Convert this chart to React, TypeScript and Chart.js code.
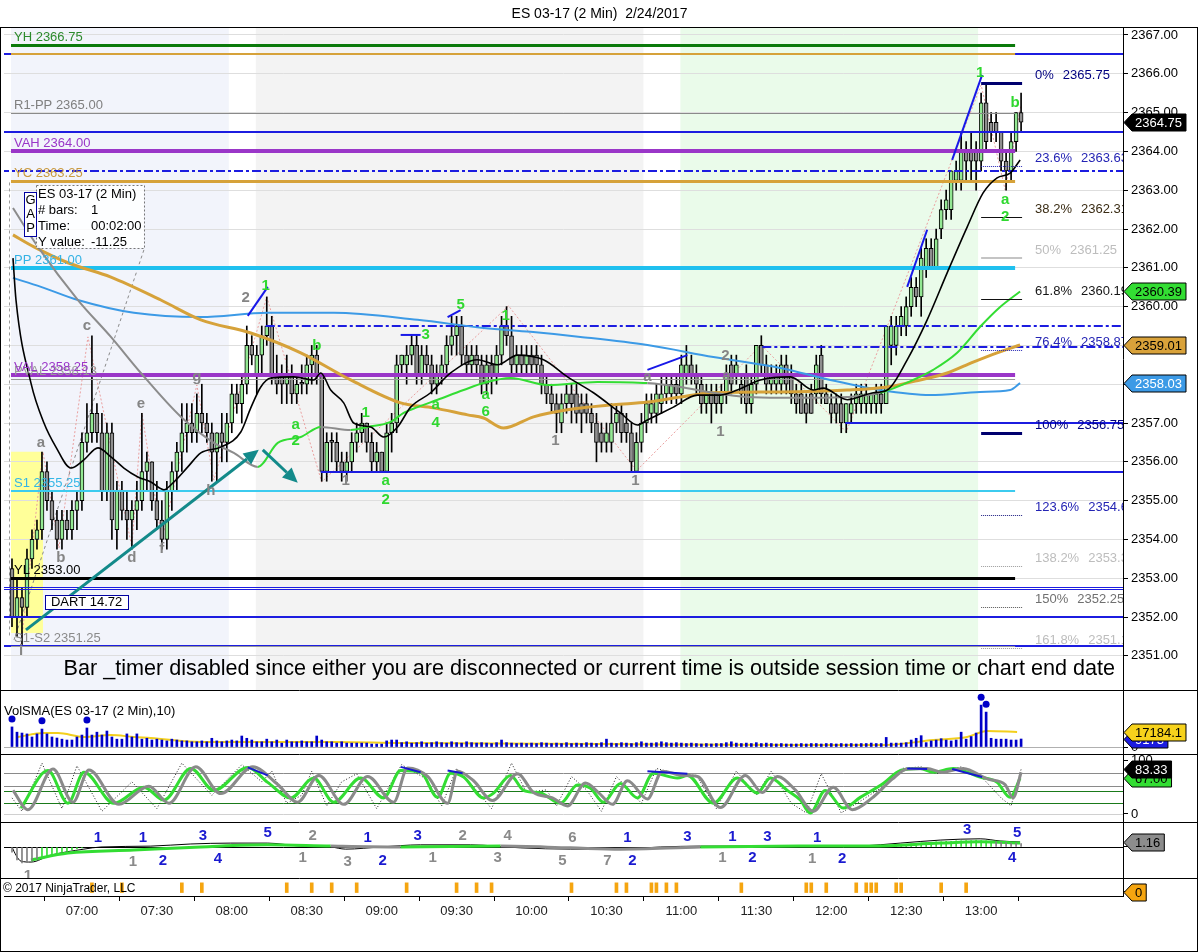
import { useEffect, useRef } from 'react';
import { Chart, registerables } from 'chart.js';

Chart.register(...registerables);

const FONT = '"Liberation Sans", Arial, Helvetica, sans-serif';

/* ---------------- categories / ticks ---------------- */
const TITLE = 'ES 03-17 (2 Min)  2/24/2017';
const FIRST_BAR = '06:32';
const BAR_MINUTES = 2;
const TIME_TICKS = ['07:00', '07:30', '08:00', '08:30', '09:00', '09:30', '10:00', '10:30', '11:00', '11:30', '12:00', '12:30', '13:00'];
const PRICE_TICKS = [2351, 2352, 2353, 2354, 2355, 2356, 2357, 2358, 2359, 2360, 2361, 2362, 2363, 2364, 2365, 2366, 2367];
const X_RANGE = [-1.6, 222.4];
const PRICE_RANGE = [2350.12, 2367.18];
const VOL_RANGE = [-8, 65.3];
const STOCH_RANGE = [-15, 112];
const MACD_RANGE = [-7.2, 5.8];
const STRIP_RANGE = [-0.3, 1];

/* ---------------- price bars [open, high, low, close] ---------------- */
const CANDLES = [
  [2353.25, 2353.5, 2351.75, 2352.0], [2352.0, 2353.0, 2351.5, 2352.5], [2352.5, 2352.75, 2351.25, 2352.25], [2352.25, 2353.75, 2352.0, 2353.5],
  [2353.5, 2354.25, 2353.25, 2354.0], [2354.0, 2354.5, 2353.75, 2354.25], [2354.25, 2356.25, 2354.0, 2355.75], [2355.75, 2356.0, 2354.75, 2355.0],
  [2355.0, 2355.25, 2354.25, 2354.5], [2354.5, 2354.75, 2353.75, 2354.0], [2354.0, 2354.75, 2353.75, 2354.5], [2354.5, 2354.75, 2354.0, 2354.25],
  [2354.25, 2355.0, 2354.0, 2354.75], [2354.75, 2355.25, 2354.25, 2355.0], [2355.0, 2356.75, 2354.75, 2356.5], [2356.5, 2357.5, 2356.25, 2356.75],
  [2356.75, 2359.25, 2356.5, 2357.25], [2357.25, 2357.5, 2356.5, 2356.75], [2356.75, 2357.25, 2355.0, 2355.25], [2355.25, 2357.0, 2355.0, 2356.75],
  [2356.75, 2357.0, 2354.0, 2354.5], [2354.25, 2355.5, 2353.75, 2355.25], [2355.25, 2355.5, 2354.5, 2354.75], [2354.75, 2355.25, 2354.0, 2354.5],
  [2354.5, 2355.0, 2353.75, 2354.75], [2354.75, 2355.5, 2354.25, 2355.0], [2355.0, 2357.25, 2354.75, 2355.75], [2355.75, 2356.25, 2355.25, 2356.0],
  [2356.0, 2356.0, 2354.75, 2355.0], [2355.0, 2355.5, 2354.25, 2354.5], [2354.5, 2355.0, 2353.75, 2354.0], [2354.0, 2355.5, 2353.75, 2355.25],
  [2355.25, 2356.0, 2354.75, 2355.75], [2355.75, 2356.5, 2355.25, 2356.25], [2356.25, 2357.5, 2355.75, 2356.75], [2356.75, 2357.5, 2356.25, 2357.0],
  [2357.0, 2357.5, 2356.5, 2356.75], [2356.75, 2357.75, 2356.5, 2357.25], [2357.25, 2358.0, 2356.75, 2357.0], [2357.0, 2357.25, 2356.5, 2356.75],
  [2356.75, 2357.0, 2355.5, 2356.25], [2356.25, 2356.75, 2355.5, 2356.75], [2356.75, 2357.25, 2356.0, 2356.5], [2356.5, 2357.25, 2356.0, 2357.0],
  [2357.0, 2358.0, 2356.75, 2357.75], [2357.75, 2358.0, 2357.25, 2357.5], [2357.5, 2358.25, 2357.0, 2358.0], [2358.0, 2359.5, 2357.75, 2359.0],
  [2359.0, 2359.25, 2358.5, 2358.75], [2358.25, 2359.0, 2357.75, 2358.75], [2358.75, 2359.5, 2358.25, 2359.25], [2359.25, 2360.25, 2359.0, 2359.5],
  [2359.5, 2359.75, 2358.0, 2358.25], [2358.25, 2358.75, 2357.75, 2358.0], [2358.25, 2358.5, 2357.5, 2358.0], [2358.0, 2358.75, 2357.5, 2358.25],
  [2358.25, 2358.5, 2357.5, 2357.75], [2357.75, 2358.25, 2357.5, 2358.0], [2358.0, 2358.5, 2357.75, 2358.0], [2358.0, 2358.75, 2357.75, 2358.5],
  [2358.5, 2359.0, 2358.0, 2358.75], [2358.75, 2359.0, 2358.0, 2358.25], [2358.25, 2358.25, 2355.5, 2355.75], [2355.75, 2356.75, 2355.5, 2356.5],
  [2356.5, 2356.75, 2356.0, 2356.5], [2356.5, 2356.75, 2355.75, 2356.0], [2356.0, 2356.25, 2355.5, 2355.75], [2355.75, 2356.25, 2355.5, 2356.0],
  [2356.0, 2356.75, 2355.75, 2356.5], [2356.5, 2357.0, 2356.25, 2356.75], [2356.75, 2357.25, 2356.5, 2357.0], [2357.0, 2357.0, 2356.25, 2356.5],
  [2356.5, 2356.75, 2355.75, 2356.0], [2356.0, 2356.5, 2355.75, 2356.25], [2356.25, 2356.25, 2355.75, 2355.75], [2355.75, 2357.0, 2355.75, 2356.75],
  [2356.75, 2357.25, 2356.25, 2357.0], [2357.0, 2358.75, 2356.75, 2358.5], [2358.5, 2358.75, 2358.25, 2358.75], [2358.5, 2359.0, 2358.0, 2358.75],
  [2358.75, 2359.25, 2358.5, 2359.0], [2359.0, 2359.25, 2358.0, 2358.25], [2358.25, 2359.0, 2358.0, 2358.75], [2358.75, 2359.0, 2358.25, 2358.5],
  [2358.5, 2358.75, 2357.75, 2358.0], [2358.0, 2358.5, 2357.75, 2358.25], [2358.25, 2358.75, 2358.0, 2358.5], [2358.5, 2359.25, 2358.25, 2359.0],
  [2359.0, 2359.75, 2358.75, 2359.25], [2359.25, 2359.75, 2358.75, 2359.5], [2359.5, 2359.75, 2358.5, 2358.75], [2358.75, 2359.0, 2358.25, 2358.5],
  [2358.5, 2359.0, 2358.25, 2358.75], [2358.75, 2359.0, 2358.25, 2358.5], [2358.5, 2358.75, 2357.75, 2358.0], [2358.0, 2358.75, 2357.75, 2358.5],
  [2358.5, 2358.75, 2357.75, 2358.25], [2358.25, 2359.0, 2358.0, 2358.75], [2358.75, 2359.75, 2358.5, 2359.5], [2359.5, 2360.0, 2359.0, 2359.25],
  [2359.25, 2359.75, 2358.25, 2358.5], [2358.5, 2359.0, 2358.25, 2358.75], [2358.75, 2359.0, 2358.25, 2358.5], [2358.5, 2359.0, 2358.25, 2358.75],
  [2358.75, 2359.0, 2358.25, 2358.5], [2358.75, 2359.0, 2358.25, 2358.5], [2358.5, 2358.75, 2357.75, 2358.0], [2358.0, 2358.25, 2357.5, 2357.75],
  [2357.75, 2358.0, 2357.25, 2357.5], [2357.5, 2357.75, 2356.75, 2357.25], [2357.0, 2357.75, 2356.75, 2357.5], [2357.5, 2358.0, 2357.25, 2357.75],
  [2357.75, 2358.0, 2357.0, 2357.5], [2357.75, 2358.0, 2357.0, 2357.25], [2357.5, 2357.75, 2356.75, 2357.25], [2357.5, 2357.75, 2357.0, 2357.25],
  [2357.25, 2357.5, 2356.75, 2357.0], [2357.0, 2357.25, 2356.0, 2356.5], [2356.75, 2357.0, 2356.25, 2356.5], [2356.5, 2357.0, 2356.25, 2356.75],
  [2356.5, 2357.5, 2356.25, 2357.0], [2357.0, 2357.5, 2356.75, 2357.25], [2357.25, 2357.5, 2356.5, 2356.75], [2357.0, 2357.25, 2356.5, 2356.75],
  [2356.75, 2357.0, 2355.75, 2356.0], [2355.75, 2356.75, 2355.75, 2356.5], [2356.5, 2357.25, 2356.25, 2357.0], [2357.0, 2357.75, 2356.75, 2357.5],
  [2357.25, 2357.75, 2357.0, 2357.5], [2357.25, 2358.0, 2357.0, 2357.75], [2357.5, 2358.25, 2357.25, 2357.75], [2357.75, 2358.25, 2357.5, 2358.0],
  [2357.75, 2358.25, 2357.5, 2358.0], [2358.0, 2358.25, 2357.5, 2357.75], [2357.75, 2358.75, 2357.5, 2358.5], [2358.25, 2359.0, 2358.0, 2358.5],
  [2358.5, 2358.75, 2358.0, 2358.25], [2358.25, 2358.5, 2357.75, 2358.0], [2358.0, 2358.25, 2357.25, 2357.5], [2357.5, 2358.0, 2357.25, 2357.75],
  [2357.75, 2358.0, 2357.0, 2357.5], [2357.75, 2358.0, 2357.25, 2357.5], [2357.5, 2358.0, 2357.25, 2357.75], [2357.75, 2358.5, 2357.5, 2358.25],
  [2358.5, 2358.75, 2357.75, 2358.0], [2358.25, 2358.75, 2358.0, 2358.5], [2358.0, 2358.25, 2357.5, 2357.75], [2358.25, 2358.5, 2357.25, 2357.5],
  [2357.5, 2358.25, 2357.25, 2358.0], [2358.0, 2359.0, 2357.75, 2359.0], [2359.0, 2359.25, 2358.25, 2358.5], [2358.5, 2358.75, 2357.75, 2358.0],
  [2358.0, 2358.5, 2357.75, 2358.25], [2358.0, 2358.5, 2357.75, 2358.25], [2358.0, 2358.75, 2357.75, 2358.5], [2358.5, 2358.75, 2357.75, 2358.0],
  [2358.25, 2358.5, 2357.5, 2357.75], [2357.75, 2358.0, 2357.25, 2357.5], [2357.75, 2358.0, 2357.25, 2357.25], [2357.5, 2357.75, 2357.0, 2357.25],
  [2357.75, 2358.0, 2357.25, 2357.25], [2357.75, 2358.75, 2357.5, 2358.5], [2358.75, 2359.0, 2357.5, 2357.75], [2357.75, 2358.0, 2357.5, 2357.5],
  [2357.5, 2357.75, 2357.0, 2357.25], [2357.5, 2357.75, 2357.0, 2357.25], [2357.5, 2357.75, 2356.75, 2357.0], [2357.0, 2357.5, 2356.75, 2357.5],
  [2357.25, 2357.75, 2357.0, 2357.5], [2357.5, 2358.0, 2357.25, 2357.75], [2357.5, 2358.0, 2357.25, 2357.75], [2357.5, 2358.0, 2357.25, 2357.75],
  [2357.5, 2357.75, 2357.25, 2357.75], [2357.5, 2358.0, 2357.25, 2357.75], [2357.75, 2358.0, 2357.25, 2357.5], [2357.5, 2359.5, 2357.5, 2359.5],
  [2359.0, 2359.75, 2358.5, 2359.5], [2359.0, 2359.75, 2358.75, 2359.5], [2359.5, 2360.0, 2359.25, 2359.75], [2359.5, 2360.25, 2359.25, 2360.0],
  [2360.0, 2360.75, 2359.75, 2360.5], [2360.5, 2360.75, 2360.0, 2360.25], [2360.25, 2361.5, 2359.75, 2361.25], [2361.0, 2361.75, 2360.75, 2361.5],
  [2361.5, 2361.75, 2361.0, 2361.0], [2361.0, 2362.0, 2361.0, 2361.75], [2362.0, 2362.75, 2361.75, 2362.5], [2362.5, 2363.0, 2362.25, 2362.75],
  [2362.5, 2363.5, 2362.25, 2363.5], [2363.25, 2363.75, 2363.0, 2363.5], [2363.25, 2364.5, 2363.0, 2364.0], [2364.0, 2364.25, 2363.25, 2363.75],
  [2364.0, 2364.5, 2363.25, 2363.75], [2364.0, 2364.25, 2363.0, 2363.75], [2363.75, 2365.5, 2363.5, 2365.25], [2365.25, 2365.75, 2364.0, 2364.25],
  [2364.75, 2365.0, 2364.25, 2364.5], [2364.75, 2365.0, 2364.25, 2364.5], [2364.5, 2364.5, 2363.5, 2363.75], [2363.75, 2364.0, 2363.0, 2363.5],
  [2363.5, 2364.5, 2363.25, 2364.25], [2364.25, 2365.0, 2364.0, 2365.0], [2365.0, 2365.5, 2364.5, 2364.75],
];

/* ---------------- moving averages [barIndex, price] ---------------- */
const BLACK_MA = [[0.2, 2361.25], [0.8, 2360.17], [3.8, 2358.03], [6.4, 2357.0], [8.8, 2356.38], [11.8, 2355.84], [14.4, 2356.05], [17.2, 2356.36], [19.8, 2356.13], [22.4, 2355.84], [25.2, 2355.61], [27.8, 2355.48], [30.4, 2355.28], [32.4, 2355.48], [35.2, 2355.87], [37.8, 2356.23], [41.8, 2356.38], [45.8, 2356.77], [47.8, 2357.39], [49.8, 2357.93], [51.8, 2358.16], [56.4, 2358.19], [60.4, 2358.11], [61.8, 2358.29], [63.8, 2357.85], [66.4, 2357.52], [68.4, 2357.0], [71.8, 2356.9], [74.4, 2356.64], [77.2, 2356.9], [79.8, 2357.41], [83.8, 2357.78], [87.8, 2358.29], [93.2, 2358.63], [97.2, 2358.5], [101.2, 2358.75], [106.4, 2358.63], [111.2, 2358.19], [116.4, 2357.78], [121.8, 2357.26], [125.2, 2356.95], [127.2, 2357.08], [132.4, 2357.41], [137.2, 2357.72], [141.8, 2357.72], [145.2, 2357.85], [149.8, 2358.11], [155.8, 2358.19], [160.4, 2357.85], [162.4, 2357.9], [167.2, 2357.6], [172.4, 2357.78], [175.2, 2357.85], [179.2, 2358.63], [183.2, 2359.66], [187.2, 2360.87], [191.2, 2362.05], [194.4, 2362.93], [197.2, 2363.32], [199.8, 2363.44], [201.8, 2363.78]];
const SLOW_MA = [[0.2, 2362.54], [5.2, 2361.54], [13.2, 2360.17], [19.8, 2359.22], [25.8, 2358.29], [33.8, 2357.16], [40.4, 2356.49], [44.4, 2356.23], [49.2, 2355.87], [53.2, 2356.49], [57.8, 2356.64], [61.8, 2356.9], [67.8, 2356.82], [71.2, 2356.9], [75.8, 2357.03], [78.4, 2357.26], [81.2, 2357.41], [85.2, 2357.6], [90.4, 2357.85], [94.4, 2358.03], [99.8, 2358.16], [107.2, 2357.98], [117.2, 2358.06], [127.2, 2358.03], [133.8, 2357.93], [140.4, 2357.78], [147.2, 2357.67], [153.8, 2357.65], [160.4, 2357.65], [167.2, 2357.67], [173.8, 2357.78], [180.4, 2358.11], [184.4, 2358.37], [189.2, 2358.81], [193.8, 2359.48], [197.8, 2359.99], [201.8, 2360.39]];
const ORANGE_MA = [[0.2, 2361.85], [4.4, 2361.54], [11.2, 2361.13], [19.8, 2360.76], [29.8, 2360.17], [37.8, 2359.66], [47.8, 2359.32], [57.8, 2358.81], [67.8, 2358.11], [77.8, 2357.52], [84.4, 2357.39], [91.2, 2357.21], [94.4, 2357.13], [98.4, 2356.87], [104.4, 2357.16], [111.2, 2357.34], [120.4, 2357.47], [127.2, 2357.54], [133.8, 2357.67], [140.4, 2357.78], [153.8, 2357.8], [167.2, 2357.85], [175.2, 2357.93], [181.8, 2358.11], [187.2, 2358.29], [192.4, 2358.57], [197.2, 2358.81], [201.8, 2359.01]];
const BLUE_MA = [[0.2, 2360.74], [5.8, 2360.51], [13.2, 2360.17], [24.4, 2359.84], [37.8, 2359.73], [51.2, 2359.84], [64.4, 2359.84], [81.2, 2359.66], [94.4, 2359.45], [103.8, 2359.35], [113.8, 2359.22], [127.2, 2359.01], [140.4, 2358.7], [153.8, 2358.42], [163.8, 2358.11], [173.8, 2357.85], [183.8, 2357.72], [193.8, 2357.8], [199.8, 2357.85], [201.8, 2358.03]];
const SLOW_MA_GRAY_SPANS = [[0, 49], [61.8, 67.8], [127.2, 172.4]];

/* ---------------- volume (thousands) ---------------- */
const VOLUME_K = [
  23, 17, 16, 15, 11.5, 15, 20.6, 15, 11.5, 10.3,
  9, 8, 8, 11.5, 13.7, 21.8, 13.7, 17, 13.7, 18.3,
  11.5, 9, 9, 15, 11.5, 15, 9, 10, 8, 9,
  8, 7, 9, 8, 7, 7, 6, 6, 7, 6,
  10, 7, 6, 7, 8, 7, 12.6, 10, 8, 6,
  6, 9, 6, 8, 4.5, 8, 6, 6, 7, 6,
  6, 12.6, 8, 6, 6, 4.5, 6, 4.5, 4.5, 4.5,
  4.5, 4.5, 3.4, 3.4, 3.4, 7, 8, 8,
  5, 6, 4.5, 5, 6, 4.5, 5, 6, 5, 4.5,
  6, 5, 4.5, 6, 5, 4.5, 5, 4.5, 4, 5,
  8, 5, 4.5, 4, 4.5, 4, 4.5, 4, 5, 4.5,
  4, 4.5, 4, 5, 4, 4.5, 4, 5, 4.5, 4,
  5, 9, 4.5, 4, 5, 4.5, 4, 5, 6, 4.5,
  4.5, 5, 6, 5, 4.5, 5, 4.5, 4, 4.5, 4,
  3.5, 4, 3.5, 4, 4, 5, 6, 4.5, 4, 4.5,
  4, 5, 4, 4.5, 4, 3.5, 4, 3.5,
  3.5, 3.5, 4, 3.5, 4, 4, 3.5, 4, 4, 3.5,
  4, 3.5, 4, 3.5, 4, 4, 4.5, 4, 4, 11,
  4.5, 4.5, 4.5, 5, 8, 10, 13, 5, 7, 8,
  9.5, 8, 7, 8, 17, 9, 12, 16, 48, 40, 10, 9, 9, 9, 8, 8, 9.173,
];
const VOL_SMA_K = [[1.2, 11.5], [6.4, 16], [9.2, 16], [14.4, 11.5], [19.8, 13.7], [24.4, 11.5], [27.8, 10.3], [37.8, 5.7], [51.2, 5.7], [64.4, 5.7], [77.8, 4.6], [117.8, 3.4], [157.8, 2.3], [174.4, 2.3], [184.4, 8], [191.2, 11.5], [195.2, 18.3], [201.2, 17.1841]];
const VOL_DOTS_K = [[0, 32], [6, 30], [15, 31], [194, 57], [195, 49]];

/* ---------------- stochastics ---------------- */
const STOCH_D = [[1.8, 11], [7.2, 81], [11.2, 20], [14.4, 78], [20.4, 20], [26.4, 50], [30.4, 26], [35.8, 85], [40.4, 44], [47.2, 87], [51.2, 59], [55.8, 30], [60.4, 67], [64.4, 22], [69.8, 67], [74.4, 30], [77.8, 81], [81.8, 78], [85.2, 31], [87.8, 76], [90.4, 69], [94.4, 30], [96.4, 39], [99.8, 72], [102.4, 44], [105.8, 39], [109.8, 20], [113.2, 54], [115.8, 48], [118.4, 22], [121.8, 57], [125.2, 30], [128.4, 76], [133.2, 67], [135.2, 72], [140.4, 20], [145.2, 67], [149.2, 39], [151.8, 67], [155.2, 44], [157.8, 26], [159.8, 2], [162.8, 44], [166.4, 11], [169.8, 31], [174.4, 57], [177.8, 81], [181.8, 85], [184.4, 78], [188.4, 85], [193.8, 69], [197.2, 59], [199.8, 31], [201.8, 67]];
const STOCH_SLOW = [[0.2, 44], [3.2, 8], [8.2, 84], [12.2, 22], [15.4, 82], [21.4, 18], [27.4, 52], [31.4, 20], [36.8, 88], [41.8, 38], [48.2, 88], [53.2, 55], [57.2, 22], [61.4, 72], [66.4, 18], [71.2, 70], [76.4, 22], [79.2, 86], [83.2, 70], [87.2, 20], [89.2, 80], [92.4, 62], [96.2, 25], [101.2, 75], [104.4, 40], [108.2, 30], [111.2, 15], [114.8, 58], [117.4, 40], [120.2, 18], [123.2, 62], [127.2, 28], [130.2, 80], [134.2, 72], [137.2, 70], [141.8, 12], [146.8, 72], [150.2, 40], [153.2, 70], [156.8, 45], [160.4, 5], [164.4, 50], [168.2, 8], [172.2, 30], [176.2, 65], [179.2, 84], [183.2, 85], [186.2, 78], [190.4, 85], [195.4, 65], [198.8, 55], [200.4, 30], [202, 78]];
const STOCH_K = [[0, 30], [2, 5], [6, 95], [10, 10], [13, 90], [18, 5], [24, 60], [29, 10], [34, 95], [40, 35], [46, 92], [50, 60], [52, 80], [55, 20], [58, 35], [60, 80], [63, 15], [66, 60], [69, 75], [73, 10], [76, 60], [78, 92], [83, 65], [86, 15], [89, 85], [92, 55], [96, 10], [100, 95], [103, 40], [107, 45], [109, 15], [112, 70], [115, 45], [118, 5], [121, 70], [126, 20], [129, 85], [133, 75], [137, 72], [141, 10], [145, 80], [149, 35], [152, 80], [156, 20], [159, 2], [162, 75], [166, 2], [170, 25], [175, 55], [178, 85], [182, 88], [185, 75], [190, 88], [194, 70], [198, 30], [200, 15], [202, 83.33]];
const STOCH_LEVELS = [77, 52, 43, 20, 0];
const STOCH_DIVERGENCE = [[47.2, 87, 51.2, 72], [77.8, 88, 81.8, 78], [87.2, 81, 90.2, 76], [127.2, 80, 135.2, 75], [179.2, 85, 183.2, 84], [188.2, 84, 194.2, 69]];

/* ---------------- MACD-style panel ---------------- */
const MACD_LINE = [[0, 0], [0.8, -1.9], [1.8, -3.3], [3.8, -3.5], [7.8, -1.9], [14.4, -0.5], [17.8, 0], [27.8, 0.2], [35.8, 0.7], [43.8, 0.9], [51.2, 0.9], [57.8, 0.2], [63.8, 0], [66.8, -0.5], [73.8, 0], [81.8, 0.5], [91.8, 0.5], [101.8, -0.2], [111.8, -0.5], [121.8, -0.5], [129.8, 0], [137.8, 0.2], [153.8, 0.2], [161.8, 0], [169.8, 0.2], [177.8, 0.9], [185.8, 1.6], [193.8, 1.9], [197.8, 1.4], [201.8, 1.16]];
const MACD_AVG = [[3.8, -3.0], [11.2, -1.4], [24.4, -0.7], [37.8, 0], [51.2, 0.5], [63.8, 0.2], [77.8, 0], [97.8, 0.2], [111.8, -0.2], [121.8, -0.5], [137.8, 0], [157.8, 0.2], [171.8, 0.2], [185.8, 0.9], [193.8, 1.2], [201.8, 0.9]];
const MACD_AVG_GRAY_SPANS = [[55, 68], [93, 124], [158, 169], [197, 203]];
const MACD_HIST_START = [0, 175];
const MACD_HIST_LEFT = [-1.2, -3.0, -3.7, -3.5, -3.1, -2.7, -2.4, -2.1, -1.8, -1.5, -1.2, -0.9, -0.6, -0.4, -0.2];
const MACD_HIST_RIGHT = [0.2, 0.3, 0.4, 0.5, 0.6, 0.7, 0.8, 0.9, 1.0, 1.1, 1.2, 1.2, 1.3, 1.3, 1.4, 1.4, 1.5, 1.5, 1.6, 1.5, 1.4, 1.3, 1.2, 1.1, 1.0, 0.9, 0.9, 0.8];
const MACD_HIST_GRAY = [[0, 6], [197, 203]];
const MACD_MARKS = [
  ['1', 17.2, 2.1, 'blue'], ['1', 26.2, 2.1, 'blue'], ['3', 38.2, 2.6, 'blue'], ['5', 51.2, 3.3, 'blue'], ['2', 60.2, 2.6, 'gray'], ['1', 71.2, 2.1, 'blue'],
  ['1', 24.2, -3.5, 'gray'], ['2', 30.2, -3.3, 'blue'], ['4', 41.2, -2.8, 'blue'], ['1', 58.2, -2.6, 'gray'], ['3', 67.2, -3.5, 'gray'], ['2', 74.2, -3.3, 'blue'],
  ['3', 81.2, 2.6, 'blue'], ['2', 90.2, 2.6, 'gray'], ['4', 99.2, 2.6, 'gray'], ['6', 112.2, 2.1, 'gray'], ['1', 123.2, 2.1, 'blue'], ['3', 135.2, 2.3, 'blue'],
  ['1', 144.2, 2.3, 'blue'], ['3', 151.2, 2.3, 'blue'], ['1', 84.2, -2.6, 'gray'], ['3', 97.2, -2.6, 'gray'], ['5', 110.2, -3.3, 'gray'], ['7', 119.2, -3.3, 'gray'],
  ['2', 124.2, -3.3, 'blue'], ['1', 142.2, -2.6, 'gray'], ['2', 148.2, -2.6, 'blue'], ['1', 161.2, 2.1, 'blue'], ['1', 160.2, -2.8, 'gray'], ['2', 166.2, -2.8, 'blue'],
  ['3', 191.2, 4.0, 'blue'], ['5', 201.2, 3.3, 'blue'], ['4', 200.2, -2.6, 'blue'], ['1', 3.2, -6.6, 'gray'],
];

/* ---------------- event strip ---------------- */
const STRIP_MARKS = [16, 22, 34, 38, 55, 60, 64, 69, 79, 89, 93, 96, 112, 121, 123, 128, 129, 131, 133, 146, 159, 160, 163, 169, 171, 172, 173, 177, 178, 186, 191];
const STRIP_LAST = 0;

/* ---------------- price levels ---------------- */
const LEVEL_NAMES = ['YH', 'R1-PP', 'VAH', 'YC', 'PP', 'PVAL', 'VAL', 'S1', 'YL', 'S1-S2'];
const LEVEL_VALUES = [2366.75, 2365.0, 2364.0, 2363.25, 2361.0, 2358.13, 2358.25, 2355.25, 2353.0, 2351.25];
const LEVEL_SPAN = [-0.2, 200.8];
const YO_VALUE = 2366.5;
const SR_VALUES = [2366.5, 2364.5, 2363.5, 2359.5, 2358.97, 2357.0, 2355.75, 2352.75, 2352.0, 2351.25];
const SR_FROM = [null, null, null, 50.8, 150.2, 166.8, 61.8, null, null, null];
const SR_KIND = ['solid', 'solid', 'dashdot', 'dashdot', 'dashdot', 'solid', 'solid', 'double', 'solid', 'solid'];
const FIB_LABELS = ['0%', '23.6%', '38.2%', '50%', '61.8%', '76.4%', '100%', '123.6%', '138.2%', '150%', '161.8%'];
const FIB_VALUES = [2365.75, 2363.63, 2362.31, 2361.25, 2360.19, 2358.87, 2356.75, 2354.63, 2353.31, 2352.25, 2351.19];
const FIB_SPAN = [194, 202.2];
const FIB_TEXT_IDX = 204.8;

/* ---------------- drawings & annotations (bar index, price) ---------------- */
const SESSION_FROM = [-0.2, 48.8, 133.8];
const SESSION_TO = [43.4, 126.4, 193.4];
const GAP_ZONE = [-0.2, 6.2, 2356.26, 2351.59];
const ZIGZAG = [[1.8, 2351.28], [6.2, 2356.26], [9.4, 2353.78], [15.2, 2359.22], [24.0, 2353.81], [26.0, 2357.26], [30.0, 2353.99], [37.0, 2357.98], [40.4, 2355.53], [51.0, 2360.25], [62.0, 2355.48], [99.4, 2360.02], [125.0, 2355.77], [150.0, 2359.01], [167.0, 2356.77], [194.0, 2365.71], [198.8, 2363.01], [202.0, 2365.2]];
const MEASURE_LINE = [26.4, 2361.46, 0.4, 2351.41];
const RULER_LINE = [-0.6, 2363.2, -0.6, 2351.5];
const TOOLTIP_BOX = [4.8, 2363.13, 26.4, 2361.51];
const TOOLTIP_ROWS = [['ES 03-17 (2 Min)', ''], ['# bars:', '1'], ['Time:', '00:02:00'], ['Y value:', '-11.25']];
const GAP_BOX = [2.4, 2362.95, 4.8, 2361.82];
const GAP_TEXT = ['G', 'A', 'P'];
const DART_BOX = [6.6, 2352.57, 23.2, 2352.21];
const DART_TEXT = 'DART 14.72';
const TEAL_ARROWS = [[2.8, 2351.67, 49.4, 2356.31], [50.2, 2356.31, 57.2, 2355.46]];
const TREND_LINES = [[47.2, 2359.76, 51.2, 2360.51], [77.8, 2359.27, 81.8, 2359.27], [87.2, 2359.73, 89.8, 2359.91], [127.2, 2358.37, 135.2, 2358.75], [179.2, 2360.51, 183.2, 2361.98], [188.2, 2363.78, 194.2, 2365.97]];
const PRICE_MARKS = [
  ['a', 5.8, 2356.49, 'gray'], ['b', 9.8, 2353.52, 'gray'], ['c', 15.0, 2359.5, 'gray'], ['d', 24.0, 2353.52, 'gray'], ['e', 25.8, 2357.49, 'gray'],
  ['f', 30.0, 2353.76, 'gray'], ['g', 37.0, 2358.19, 'gray'], ['h', 39.8, 2355.25, 'gray'], ['i', 1.8, 2351.12, 'gray'],
  ['2', 46.8, 2360.22, 'gray'], ['1', 66.8, 2355.51, 'gray'], ['1', 108.8, 2356.54, 'gray'], ['1', 124.8, 2355.51, 'gray'], ['2', 142.8, 2358.73, 'gray'],
  ['1', 141.8, 2356.77, 'gray'], ['a', 127.2, 2358.2, 'gray'], ['a', 143.0, 2358.21, 'gray'],
  ['1', 50.8, 2360.53, 'green'], ['b', 61.0, 2358.99, 'green'], ['a', 56.8, 2356.95, 'green'], ['2', 56.8, 2356.54, 'green'], ['1', 70.8, 2357.27, 'green'],
  ['a', 74.8, 2355.51, 'green'], ['2', 74.8, 2355.02, 'green'], ['3', 82.8, 2359.27, 'green'], ['5', 89.8, 2360.04, 'green'], ['1', 98.8, 2359.76, 'green'],
  ['a', 84.8, 2357.47, 'green'], ['4', 84.8, 2357.0, 'green'], ['a', 94.8, 2357.72, 'green'], ['6', 94.8, 2357.29, 'green'],
  ['1', 193.8, 2366.02, 'green'], ['b', 200.8, 2365.25, 'green'], ['a', 198.8, 2362.75, 'green'], ['2', 198.8, 2362.31, 'green'],
];
const TIMER_TEXT = 'Bar _timer disabled since either you are disconnected or current time is outside session time or chart end date';
const VOL_TITLE = 'VolSMA(ES 03-17 (2 Min),10)';
const COPYRIGHT = '\u00a9 2017 NinjaTrader, LLC';

/* ---------------- styles ---------------- */
const UP = '#93e893';
const DOWN = '#8f8f8f';
const SESSION_FILL = ['#f2f4fb', '#f3f3f3', '#eafbea'];
const LEVEL_STYLE: any = {
  YH: { c: '#0b7a0b', w: 3, t: '#2c8a2c' },
  'R1-PP': { c: '#8a8a8a', w: 1, t: '#7f7f7f' },
  VAH: { c: '#9a36c8', w: 4, t: '#9a36c8' },
  YC: { c: '#d6a23a', w: 3, t: '#c99a40' },
  PP: { c: '#1fc0ef', w: 4, t: '#34b2e4' },
  PVAL: { c: '#999999', w: 1, t: '#9a9a9a' },
  VAL: { c: '#9a36c8', w: 4, t: '#9a36c8' },
  S1: { c: '#3ccbef', w: 2, t: '#33b6e6' },
  YL: { c: '#000000', w: 3, t: '#000000' },
  'S1-S2': { c: '#999999', w: 1, t: '#8a8a8a' },
};
const SR_COLOR = '#1c1ce0';
const FIB_TEXT_COLORS = ['#000080', '#2424b4', '#3a2c14', '#bdbdbd', '#151515', '#2424b4', '#000080', '#2424b4', '#bdbdbd', '#707070', '#bdbdbd'];
const FIB_LINE_STYLE = [
  ['#00006e', 3, []], ['#2424b4', 1, [1, 1]], ['#111111', 1, []], ['#c4c4c4', 2, []], ['#111111', 1, []], ['#2424b4', 1, [1, 1]],
  ['#00006e', 3, []], ['#1a1a80', 1, [1, 1]], ['#9a9a9a', 1, [1, 1]], ['#555555', 1, [1, 1]], ['#9a9a9a', 1, [1, 1]],
];

function buildConfig(): any {
  const toMin = (s: string) => { const [h, m] = s.split(':').map(Number); return h * 60 + m; };
  const first = toMin(FIRST_BAR);
  const idxOfTime = (s: string) => (toMin(s) - first) / BAR_MINUTES;
  const timeOfIdx = (i: number) => {
    const t = first + BAR_MINUTES * Math.round(i);
    return `${String(Math.floor(t / 60)).padStart(2, '0')}:${String(t % 60).padStart(2, '0')}`;
  };
  const pts = (arr: number[][]) => arr.map(([x, y]) => ({ x, y }));
  const inSpans = (x: number, spans: number[][]) => spans.some(([a, b]) => x >= a && x < b);
  const fixW = (s: any) => { s.width = 75; };
  const font13 = { family: FONT, size: 13 };

  const histPts: any[] = [];
  MACD_HIST_LEFT.forEach((v, k) => histPts.push({ x: MACD_HIST_START[0] + k, y: v }));
  MACD_HIST_RIGHT.forEach((v, k) => histPts.push({ x: MACD_HIST_START[1] + k, y: v }));

  const lineBase = { type: 'line', pointRadius: 0, cubicInterpolationMode: 'monotone', fill: false, xAxisID: 'x' };

  const datasets: any[] = [
    { type: 'bar', label: 'wick', yAxisID: 'yP', xAxisID: 'x', data: CANDLES.map((c, i) => ({ x: i, y: [c[2], c[1]] })), backgroundColor: '#000', borderWidth: 0, barThickness: 1, grouped: false, order: 30 },
    { type: 'bar', label: 'body', yAxisID: 'yP', xAxisID: 'x', data: CANDLES.map((c, i) => ({ x: i, y: [Math.min(c[0], c[3]), Math.max(c[0], c[3])] })), backgroundColor: CANDLES.map((c) => (c[3] > c[0] ? UP : DOWN)), borderColor: '#000', borderWidth: 1, borderSkipped: false, barThickness: 4, minBarLength: 2, grouped: false, order: 29 },
    { ...lineBase, yAxisID: 'yP', data: pts(BLUE_MA), borderColor: '#3c9ae6', borderWidth: 2, order: 4 },
    { ...lineBase, yAxisID: 'yP', data: pts(ORANGE_MA), borderColor: '#d6a23a', borderWidth: 3, order: 3 },
    { ...lineBase, yAxisID: 'yP', data: pts(SLOW_MA), borderColor: '#33dd33', borderWidth: 2, order: 2, segment: { borderColor: (c: any) => (inSpans(c.p0.parsed.x, SLOW_MA_GRAY_SPANS) ? '#8c8c8c' : '#33dd33') } },
    { ...lineBase, yAxisID: 'yP', data: pts(BLACK_MA), borderColor: '#000000', borderWidth: 1.6, order: 1 },

    { type: 'bar', yAxisID: 'yV', xAxisID: 'x', data: VOLUME_K.map((v, i) => ({ x: i, y: v })), backgroundColor: '#0000c8', borderWidth: 0, barThickness: 2, grouped: false },
    { ...lineBase, yAxisID: 'yV', data: pts(VOL_SMA_K), borderColor: '#f3cf1c', borderWidth: 2 },
    { type: 'line', xAxisID: 'x', yAxisID: 'yV', data: pts(VOL_DOTS_K), showLine: false, pointRadius: 3.5, pointBackgroundColor: '#0000c8', pointBorderWidth: 0 },

    { ...lineBase, yAxisID: 'yK', data: pts(STOCH_SLOW), borderColor: '#8a8a8a', borderWidth: 3 },
    { ...lineBase, yAxisID: 'yK', data: pts(STOCH_D), borderColor: '#33dd33', borderWidth: 3 },
    { type: 'line', xAxisID: 'x', yAxisID: 'yK', data: pts(STOCH_K), borderColor: '#222', borderWidth: 1, borderDash: [1, 2], pointRadius: 0, tension: 0 },

    { type: 'bar', yAxisID: 'yM', xAxisID: 'x', data: histPts, backgroundColor: histPts.map((p) => (inSpans(p.x, MACD_HIST_GRAY) ? '#808080' : '#33dd33')), borderWidth: 0, barThickness: 1, grouped: false },
    { ...lineBase, yAxisID: 'yM', data: pts(MACD_AVG), borderColor: '#33dd33', borderWidth: 3, segment: { borderColor: (c: any) => (inSpans(c.p0.parsed.x, MACD_AVG_GRAY_SPANS) ? '#8c8c8c' : '#33dd33') } },
    { ...lineBase, yAxisID: 'yM', data: pts(MACD_LINE), borderColor: '#000', borderWidth: 1 },

    { type: 'bar', yAxisID: 'yS', xAxisID: 'x', data: STRIP_MARKS.map((i) => ({ x: i, y: [-0.05, 0.65] })), backgroundColor: '#f5a510', borderWidth: 0, barThickness: 3, grouped: false },
  ];

  const subAxis = (weight: number, range: number[], ticks: number[], extra: any = {}) => ({
    type: 'linear', position: 'right', stack: 'panes', stackWeight: weight, min: range[0], max: range[1],
    afterBuildTicks: (s: any) => { s.ticks = ticks.map((v) => ({ value: v })); },
    afterFit: fixW,
    ticks: { color: '#000', font: font13, padding: 3, callback: (v: any) => String(v) },
    grid: { drawOnChartArea: false, drawTicks: true, tickLength: 5, tickColor: '#000' },
    border: { display: true, color: '#000' },
    ...extra,
  });

  return {
    type: 'bar',
    data: { datasets },
    plugins: [ninjaPlugin],
    options: {
      responsive: false,
      animation: false,
      events: [],
      layout: { padding: { top: 28, left: 1, right: 1, bottom: 0 } },
      plugins: { legend: { display: false }, tooltip: { enabled: false }, title: { display: false } },
      scales: {
        x: {
          type: 'linear', position: 'bottom', min: X_RANGE[0], max: X_RANGE[1], offset: false,
          afterBuildTicks: (s: any) => { s.ticks = TIME_TICKS.map((t) => ({ value: idxOfTime(t) })); },
          afterFit: (s: any) => { s.height = 56; },
          ticks: { autoSkip: false, maxRotation: 0, color: '#222', font: font13, padding: 3, callback: (v: any) => timeOfIdx(Number(v)) },
          grid: { drawOnChartArea: false, drawTicks: true, tickLength: 5, tickColor: '#000' },
          border: { display: true, color: '#000' },
        },
        yP: {
          type: 'linear', position: 'right', stack: 'panes', stackWeight: 662, min: PRICE_RANGE[0], max: PRICE_RANGE[1],
          afterBuildTicks: (s: any) => { s.ticks = PRICE_TICKS.map((v) => ({ value: v })); },
          afterFit: fixW,
          ticks: { color: '#000', font: font13, padding: 3, callback: (v: any) => Number(v).toFixed(2) },
          grid: { color: '#dedede', drawTicks: true, tickLength: 5, tickColor: '#000' },
          border: { display: true, color: '#000' },
        },
        yV: subAxis(64, VOL_RANGE, [0]),
        yK: subAxis(68, STOCH_RANGE, [0, 100]),
        yM: subAxis(56, MACD_RANGE, [0]),
        yS: subAxis(18, STRIP_RANGE, [0]),
      },
    },
  };
}

/* ---------------- drawing helpers ---------------- */
function seg(ctx: any, x1: number, y1: number, x2: number, y2: number, color: string, w: number, dash: number[] = []) {
  ctx.save();
  ctx.strokeStyle = color; ctx.lineWidth = w; ctx.setLineDash(dash);
  ctx.beginPath(); ctx.moveTo(x1, y1); ctx.lineTo(x2, y2); ctx.stroke();
  ctx.restore();
}
function crisp(y: number, w: number) {
  return w % 2 === 1 ? Math.round(y) + 0.5 : Math.round(y);
}
function text(ctx: any, s: string, x: number, y: number, color: string, font: string, align = 'left', base = 'alphabetic') {
  ctx.save();
  ctx.fillStyle = color; ctx.font = font; ctx.textAlign = align; ctx.textBaseline = base;
  ctx.fillText(s, x, y);
  ctx.restore();
}
function tag(ctx: any, x0: number, y: number, s: string, fill: string, color: string) {
  ctx.save();
  ctx.font = `13px ${FONT}`;
  const w = ctx.measureText(s).width + 7;
  const h = 17;
  const yy = Math.round(y) + 0.5;
  ctx.beginPath();
  ctx.moveTo(x0, yy);
  ctx.lineTo(x0 + 8, yy - h / 2);
  ctx.lineTo(x0 + 8 + w, yy - h / 2);
  ctx.lineTo(x0 + 8 + w, yy + h / 2);
  ctx.lineTo(x0 + 8, yy + h / 2);
  ctx.closePath();
  ctx.fillStyle = fill; ctx.fill();
  ctx.strokeStyle = '#000'; ctx.lineWidth = 1; ctx.stroke();
  ctx.fillStyle = color; ctx.textBaseline = 'middle'; ctx.textAlign = 'left';
  ctx.fillText(s, x0 + 11, yy + 1);
  ctx.restore();
}
function clipPanel(ctx: any, ca: any, sc: any) {
  ctx.beginPath();
  ctx.rect(ca.left, sc.top, ca.right - ca.left, sc.bottom - sc.top);
  ctx.clip();
}

function drawLevels(chart: any) {
  const { ctx, chartArea: ca } = chart;
  const xs = chart.scales.x, yP = chart.scales.yP;
  const X = (v: number) => xs.getPixelForValue(v);
  const Y = (v: number) => yP.getPixelForValue(v);
  ctx.save();
  clipPanel(ctx, ca, yP);
  const left = 0;
  SR_VALUES.forEach((v, k) => {
    const from = SR_FROM[k] == null ? left : X(SR_FROM[k] as number);
    const kind = SR_KIND[k];
    if (kind === 'double') {
      const y = Math.round(Y(v));
      seg(ctx, from, y - 0.5, ca.right, y - 0.5, SR_COLOR, 1);
      seg(ctx, from, y + 1.5, ca.right, y + 1.5, SR_COLOR, 1);
    } else if (kind === 'dashdot') {
      const y = crisp(Y(v), 2);
      seg(ctx, from, y, ca.right, y, SR_COLOR, 2, [9, 3, 3, 3]);
    } else {
      const y = crisp(Y(v), 2);
      seg(ctx, from, y, ca.right, y, SR_COLOR, 2);
    }
  });
  const xa = X(LEVEL_SPAN[0]), xb = X(LEVEL_SPAN[1]);
  seg(ctx, xa, crisp(Y(YO_VALUE), 2), xb, crisp(Y(YO_VALUE), 2), '#d6a23a', 2);
  LEVEL_NAMES.forEach((n, k) => {
    const st = LEVEL_STYLE[n];
    const y = crisp(Y(LEVEL_VALUES[k]), st.w);
    seg(ctx, xa, y, xb, y, st.c, st.w);
  });
  ctx.restore();
}

const ninjaPlugin: any = {
  id: 'ninja',
  beforeDraw(chart: any) {
    const { ctx } = chart;
    const xs = chart.scales.x, yP = chart.scales.yP;
    ctx.save();
    ctx.fillStyle = '#ffffff';
    ctx.fillRect(0, 0, chart.width, chart.height);
    SESSION_FROM.forEach((a, k) => {
      const x1 = xs.getPixelForValue(a), x2 = xs.getPixelForValue(SESSION_TO[k]);
      ctx.fillStyle = SESSION_FILL[k];
      ctx.fillRect(x1, yP.top, x2 - x1, yP.bottom - yP.top);
    });
    const gx1 = xs.getPixelForValue(GAP_ZONE[0]), gx2 = xs.getPixelForValue(GAP_ZONE[1]);
    const gy1 = yP.getPixelForValue(GAP_ZONE[2]), gy2 = yP.getPixelForValue(GAP_ZONE[3]);
    ctx.fillStyle = '#ffff99';
    ctx.fillRect(gx1, gy1, gx2 - gx1, gy2 - gy1);
    ctx.restore();
  },
  beforeDatasetsDraw(chart: any) {
    const { ctx, chartArea: ca } = chart;
    const xs = chart.scales.x, yP = chart.scales.yP, yK = chart.scales.yK, yV = chart.scales.yV, yM = chart.scales.yM;
    const X = (v: number) => xs.getPixelForValue(v);
    const Y = (v: number) => yP.getPixelForValue(v);
    ctx.save();
    clipPanel(ctx, ca, yP);
    ctx.save();
    ctx.strokeStyle = '#eaa0a0'; ctx.lineWidth = 1; ctx.setLineDash([2, 2]);
    ctx.beginPath();
    ZIGZAG.forEach(([i, p], k) => (k === 0 ? ctx.moveTo(X(i), Y(p)) : ctx.lineTo(X(i), Y(p))));
    ctx.stroke();
    ctx.restore();
    seg(ctx, X(MEASURE_LINE[0]), Y(MEASURE_LINE[1]), X(MEASURE_LINE[2]), Y(MEASURE_LINE[3]), '#8a8a8a', 1, [3, 3]);
    seg(ctx, Math.round(X(RULER_LINE[0])) + 0.5, Y(RULER_LINE[1]), Math.round(X(RULER_LINE[2])) + 0.5, Y(RULER_LINE[3]), '#9a9a9a', 1, [3, 3]);
    ctx.restore();

    const stColors = ['#8a8a8a', '#8a8a8a', '#1a7a1a', '#1a7a1a', '#d0d0d0'];
    STOCH_LEVELS.forEach((v, k) => {
      const y = crisp(yK.getPixelForValue(v), 1);
      seg(ctx, ca.left, y, ca.right, y, stColors[k], 1);
    });
    seg(ctx, ca.left, crisp(yV.getPixelForValue(0), 1), ca.right, crisp(yV.getPixelForValue(0), 1), '#b0b0b0', 1);
    seg(ctx, ca.left, crisp(yM.getPixelForValue(0), 1), ca.right, crisp(yM.getPixelForValue(0), 1), '#000', 1);
  },
  afterDatasetDraw(chart: any, args: any) {
    const ds = chart.data.datasets[args.index];
    if (ds && ds.label === 'body') drawLevels(chart);
  },
  afterDatasetsDraw(chart: any) {
    const { ctx, chartArea: ca } = chart;
    const xs = chart.scales.x, yP = chart.scales.yP, yK = chart.scales.yK, yM = chart.scales.yM;
    const X = (v: number) => xs.getPixelForValue(v);
    const Y = (v: number) => yP.getPixelForValue(v);
    ctx.save();
    clipPanel(ctx, ca, yP);

    FIB_VALUES.forEach((v, k) => {
      const [c, w, d] = FIB_LINE_STYLE[k] as any;
      const y = crisp(Y(v), w);
      seg(ctx, X(FIB_SPAN[0]), y, X(FIB_SPAN[1]), y, c, w, d);
      ctx.font = `13px ${FONT}`;
      const tx = X(FIB_TEXT_IDX);
      const pw = ctx.measureText(FIB_LABELS[k]).width;
      text(ctx, FIB_LABELS[k], tx, Y(v) - 4, FIB_TEXT_COLORS[k], `13px ${FONT}`);
      text(ctx, v.toFixed(2), tx + pw + 9, Y(v) - 4, FIB_TEXT_COLORS[k], `13px ${FONT}`);
    });

    const lx = X(LEVEL_SPAN[0]) + 3;
    LEVEL_NAMES.forEach((n, k) => {
      const st = LEVEL_STYLE[n];
      text(ctx, `${n} ${LEVEL_VALUES[k].toFixed(2)}`, lx, Y(LEVEL_VALUES[k]) - 4, st.t, `13px ${FONT}`);
    });

    TREND_LINES.forEach(([a, p, b, q]) => seg(ctx, X(a), Y(p), X(b), Y(q), '#1818e8', 2));

    TEAL_ARROWS.forEach(([a, p, b, q]) => {
      const x1 = X(a), y1 = Y(p), x2 = X(b), y2 = Y(q);
      const ang = Math.atan2(y2 - y1, x2 - x1);
      const L = 15, Wd = 7;
      const bx = x2 - L * Math.cos(ang), by = y2 - L * Math.sin(ang);
      seg(ctx, x1, y1, bx, by, '#138a8a', 3);
      ctx.save();
      ctx.fillStyle = '#138a8a';
      ctx.beginPath();
      ctx.moveTo(x2, y2);
      ctx.lineTo(bx + Wd * Math.sin(ang), by - Wd * Math.cos(ang));
      ctx.lineTo(bx - Wd * Math.sin(ang), by + Wd * Math.cos(ang));
      ctx.closePath(); ctx.fill();
      ctx.restore();
    });

    PRICE_MARKS.forEach(([s, i, p, kind]: any) => {
      text(ctx, s, X(i), Y(p), kind === 'gray' ? '#858585' : '#2fd82f', `bold 15px ${FONT}`, 'center', 'middle');
    });

    ctx.save();
    const tb = [X(TOOLTIP_BOX[0]), Y(TOOLTIP_BOX[1]), X(TOOLTIP_BOX[2]), Y(TOOLTIP_BOX[3])];
    ctx.fillStyle = 'rgba(255,255,255,0.85)';
    ctx.fillRect(tb[0], tb[1], tb[2] - tb[0], tb[3] - tb[1]);
    ctx.strokeStyle = '#777'; ctx.lineWidth = 1; ctx.setLineDash([2, 2]);
    ctx.strokeRect(Math.round(tb[0]) + 0.5, Math.round(tb[1]) + 0.5, Math.round(tb[2] - tb[0]), Math.round(tb[3] - tb[1]));
    ctx.restore();
    TOOLTIP_ROWS.forEach(([a, b], k) => {
      text(ctx, a, tb[0] + 2, tb[1] + 13 + k * 16, '#000', `13px ${FONT}`);
      if (b) text(ctx, b, tb[0] + 55, tb[1] + 13 + k * 16, '#000', `13px ${FONT}`);
    });
    const gb = [X(GAP_BOX[0]), Y(GAP_BOX[1]), X(GAP_BOX[2]), Y(GAP_BOX[3])];
    ctx.save();
    ctx.fillStyle = '#ffffff'; ctx.fillRect(gb[0], gb[1], gb[2] - gb[0], gb[3] - gb[1]);
    ctx.strokeStyle = '#0000a0'; ctx.lineWidth = 1;
    ctx.strokeRect(Math.round(gb[0]) + 0.5, Math.round(gb[1]) + 0.5, Math.round(gb[2] - gb[0]), Math.round(gb[3] - gb[1]));
    ctx.restore();
    GAP_TEXT.forEach((s, k) => text(ctx, s, (gb[0] + gb[2]) / 2 + 0.5, gb[1] + 8 + k * 14, '#000', `13px ${FONT}`, 'center', 'middle'));
    const db = [X(DART_BOX[0]), Y(DART_BOX[1]), X(DART_BOX[2]), Y(DART_BOX[3])];
    ctx.save();
    ctx.fillStyle = '#ffffff'; ctx.fillRect(db[0], db[1], db[2] - db[0], db[3] - db[1]);
    ctx.strokeStyle = '#0000a0'; ctx.lineWidth = 1;
    ctx.strokeRect(Math.round(db[0]) + 0.5, Math.round(db[1]) + 0.5, Math.round(db[2] - db[0]), Math.round(db[3] - db[1]));
    ctx.restore();
    text(ctx, DART_TEXT, db[0] + 6, (db[1] + db[3]) / 2 + 1, '#000', `13px ${FONT}`, 'left', 'middle');

    text(ctx, TIMER_TEXT, ca.right - 8, yP.bottom - 15, '#000', `21.6px ${FONT}`, 'right', 'alphabetic');
    ctx.restore();

    ctx.save();
    clipPanel(ctx, ca, yK);
    STOCH_DIVERGENCE.forEach(([a, p, b, q]) => seg(ctx, X(a), yK.getPixelForValue(p), X(b), yK.getPixelForValue(q), '#1818d0', 2));
    ctx.restore();

    ctx.save();
    clipPanel(ctx, ca, yM);
    MACD_MARKS.forEach(([s, i, v, kind]: any) => {
      text(ctx, s, X(i), yM.getPixelForValue(v), kind === 'blue' ? '#1a1ad0' : '#8a8a8a', `bold 15px ${FONT}`, 'center', 'middle');
    });
    ctx.restore();
  },
  afterDraw(chart: any) {
    const { ctx, chartArea: ca } = chart;
    const yP = chart.scales.yP, yV = chart.scales.yV, yK = chart.scales.yK, yM = chart.scales.yM, yS = chart.scales.yS;
    const W = chart.width;
    [yV.top, yK.top, yM.top, yS.top].forEach((t: number) => seg(ctx, 0, Math.round(t) + 0.5, W - 1, Math.round(t) + 0.5, '#000', 1));
    ctx.save();
    ctx.strokeStyle = '#000'; ctx.lineWidth = 1;
    ctx.strokeRect(0.5, Math.round(yP.top) - 0.5, W - 2, chart.height - Math.round(yP.top));
    ctx.restore();

    const x0 = ca.right + 1;
    const last = (arr: number[][]) => arr[arr.length - 1][1];
    tag(ctx, x0, yP.getPixelForValue(last(BLUE_MA)), last(BLUE_MA).toFixed(2), '#3c9ae6', '#fff');
    tag(ctx, x0, yP.getPixelForValue(last(ORANGE_MA)), last(ORANGE_MA).toFixed(2), '#d9a23a', '#000');
    tag(ctx, x0, yP.getPixelForValue(last(SLOW_MA)), last(SLOW_MA).toFixed(2), '#33dd33', '#000');
    const lc = CANDLES[CANDLES.length - 1][3];
    tag(ctx, x0, yP.getPixelForValue(lc), lc.toFixed(2), '#000', '#fff');
    const lv = VOLUME_K[VOLUME_K.length - 1];
    tag(ctx, x0, yV.getPixelForValue(lv), String(Math.round(lv * 1000)), '#1c1ce0', '#fff');
    tag(ctx, x0, yV.getPixelForValue(last(VOL_SMA_K)), (last(VOL_SMA_K) * 1000).toFixed(1), '#f6d21c', '#000');
    tag(ctx, x0, yK.getPixelForValue(last(STOCH_D)), last(STOCH_D).toFixed(2), '#33dd33', '#000');
    tag(ctx, x0, yK.getPixelForValue(last(STOCH_K)), last(STOCH_K).toFixed(2), '#000', '#fff');
    tag(ctx, x0, yM.getPixelForValue(last(MACD_LINE)), last(MACD_LINE).toFixed(2), '#8c8c8c', '#000');
    tag(ctx, x0, yS.getPixelForValue(STRIP_LAST), String(STRIP_LAST), '#f5a510', '#000');

    text(ctx, TITLE, W / 2, 14, '#000', `14px ${FONT}`, 'center', 'middle');
    text(ctx, VOL_TITLE, 4, yV.top + 25, '#000', `13px ${FONT}`);
    text(ctx, COPYRIGHT, 3, yS.top + 14, '#000', `12px ${FONT}`);
  },
};

export default function App() {
  const ref = useRef<HTMLCanvasElement>(null);
  useEffect(() => {
    document.body.style.margin = '0';
    const chart = new Chart(ref.current as HTMLCanvasElement, buildConfig());
    return () => chart.destroy();
  }, []);
  return <canvas ref={ref} width={1199} height={952} style={{ display: 'block' }} />;
}
